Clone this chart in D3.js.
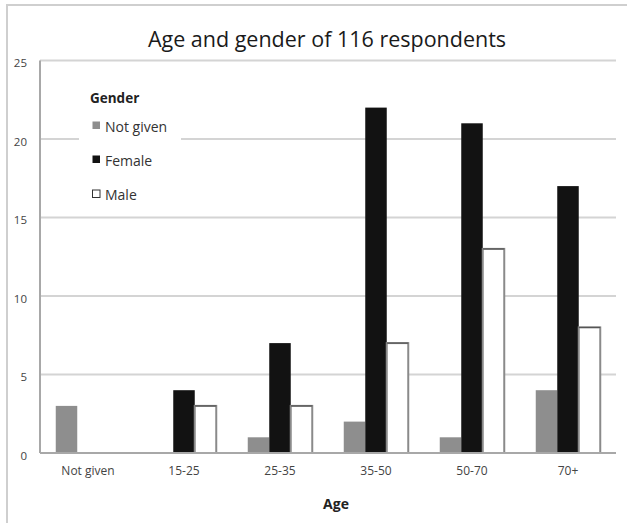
<!DOCTYPE html>
<html><head><meta charset="utf-8">
<script src="https://cdn.jsdelivr.net/npm/d3@7"></script>
<style>body{margin:0;background:#fff}svg{display:block}text{font-family:"Open Sans",sans-serif}</style>
</head><body><svg id="c" width="627" height="523"></svg>
<script>
const categories = ["Not given","15-25","25-35","35-50","50-70","70+"];
const seriesNames = ["Not given","Female","Male"];
const notGiven = [3,0,1,2,1,4];
const female = [0,4,7,22,21,17];
const male = [0,3,3,7,13,8];
const yTicks = [0,5,10,15,20,25];
const title = "Age and gender of 116 respondents";
const xTitle = "Age";
const legendTitle = "Gender";

const svg = d3.select("#c");
const m = {left:40, right:616, top:60.5, bottom:453};
const x = d3.scaleBand().domain(categories).range([m.left, m.right]).paddingInner(0).paddingOuter(0);
const y = d3.scaleLinear().domain([0,25]).range([m.bottom, m.top]);
const xs = d3.scaleBand().domain(seriesNames).range([0, 64.5]);
const colors = {"Not given":"#8e8e8e","Female":"#121212","Male":"#ffffff"};

// outer frame
svg.append("path").attr("d","M7,523 V5 H627").attr("fill","none").attr("stroke","#cfcfcf").attr("stroke-width",2);

// title
svg.append("text").attr("x",327).attr("y",47).attr("text-anchor","middle").attr("font-size",21.5).attr("fill","#1a1a1a").text(title);

// gridlines
svg.append("g").selectAll("line").data(yTicks.filter(d=>d>0)).join("line")
  .attr("x1",m.left).attr("x2",m.right).attr("y1",d=>y(d)).attr("y2",d=>y(d))
  .attr("stroke","#d4d4d4").attr("stroke-width",2);

// y axis
const yAxis = d3.axisLeft(y).tickValues(yTicks).tickSize(0).tickPadding(13);
const gy = svg.append("g").attr("transform",`translate(${m.left},0)`).call(yAxis);
gy.select(".domain").remove();
gy.selectAll("text").attr("font-size",11.5).attr("fill","#444").attr("font-family","Open Sans, sans-serif").attr("dy","0.55em");

// bars
const data = categories.map((c,i)=>({c, vals:[{s:"Not given",v:notGiven[i]},{s:"Female",v:female[i]},{s:"Male",v:male[i]}]}));
const groupW = 64.5;
const g = svg.append("g").selectAll("g").data(data).join("g")
  .attr("transform",d=>`translate(${x(d.c)+x.bandwidth()/2-groupW/2},0)`);
g.selectAll("rect").data(d=>d.vals.filter(v=>v.v>0)).join("rect")
  .attr("x",d=>xs(d.s)).attr("width",xs.bandwidth())
  .attr("y",d=>y(d.v)).attr("height",d=>y(0)-y(d.v))
  .attr("fill",d=>colors[d.s])
  .attr("stroke",d=>d.s==="Male"?"#8a8a8a":"none").attr("stroke-width",2);
// male top edge darker
g.selectAll("line.top").data(d=>d.vals.filter(v=>v.s==="Male"&&v.v>0)).join("line").attr("class","top")
  .attr("x1",d=>xs(d.s)).attr("x2",d=>xs(d.s)+xs.bandwidth()).attr("y1",d=>y(d.v)).attr("y2",d=>y(d.v))
  .attr("stroke","#555").attr("stroke-width",1.2);

// axes lines
svg.append("line").attr("x1",m.left).attr("x2",m.left).attr("y1",m.top).attr("y2",m.bottom).attr("stroke","#a8a8a8").attr("stroke-width",2);
svg.append("line").attr("x1",m.left).attr("x2",m.right).attr("y1",m.bottom).attr("y2",m.bottom).attr("stroke","#a8a8a8").attr("stroke-width",2);

// x axis labels
const xAxis = d3.axisBottom(x).tickSize(0).tickPadding(13);
const gx = svg.append("g").attr("transform",`translate(0,${m.bottom})`).call(xAxis);
gx.select(".domain").remove();
gx.selectAll("text").attr("font-size",12).attr("fill","#444").attr("font-family","Open Sans, sans-serif");

svg.append("text").attr("x",336).attr("y",509).attr("text-anchor","middle").attr("font-size",14).attr("font-weight","bold").attr("fill","#222").text(xTitle);

// legend
const lg = svg.append("g");
lg.append("rect").attr("x",79).attr("y",84).attr("width",102).attr("height",124).attr("fill","#fff");
lg.append("text").attr("x",90).attr("y",103).attr("font-size",13.5).attr("font-weight","bold").attr("fill","#222").text(legendTitle);
const ly = [126.5,160.5,195];
seriesNames.forEach((s,i)=>{
  lg.append("rect").attr("x",92.5).attr("y",ly[i]-5).attr("width",7.5).attr("height",7.5)
    .attr("fill",colors[s]).attr("stroke",s==="Male"?"#333":"none").attr("stroke-width",1);
  lg.append("text").attr("x",105).attr("y",ly[i]+5).attr("font-size",14).attr("fill","#333").text(s);
});
</script></body></html>
